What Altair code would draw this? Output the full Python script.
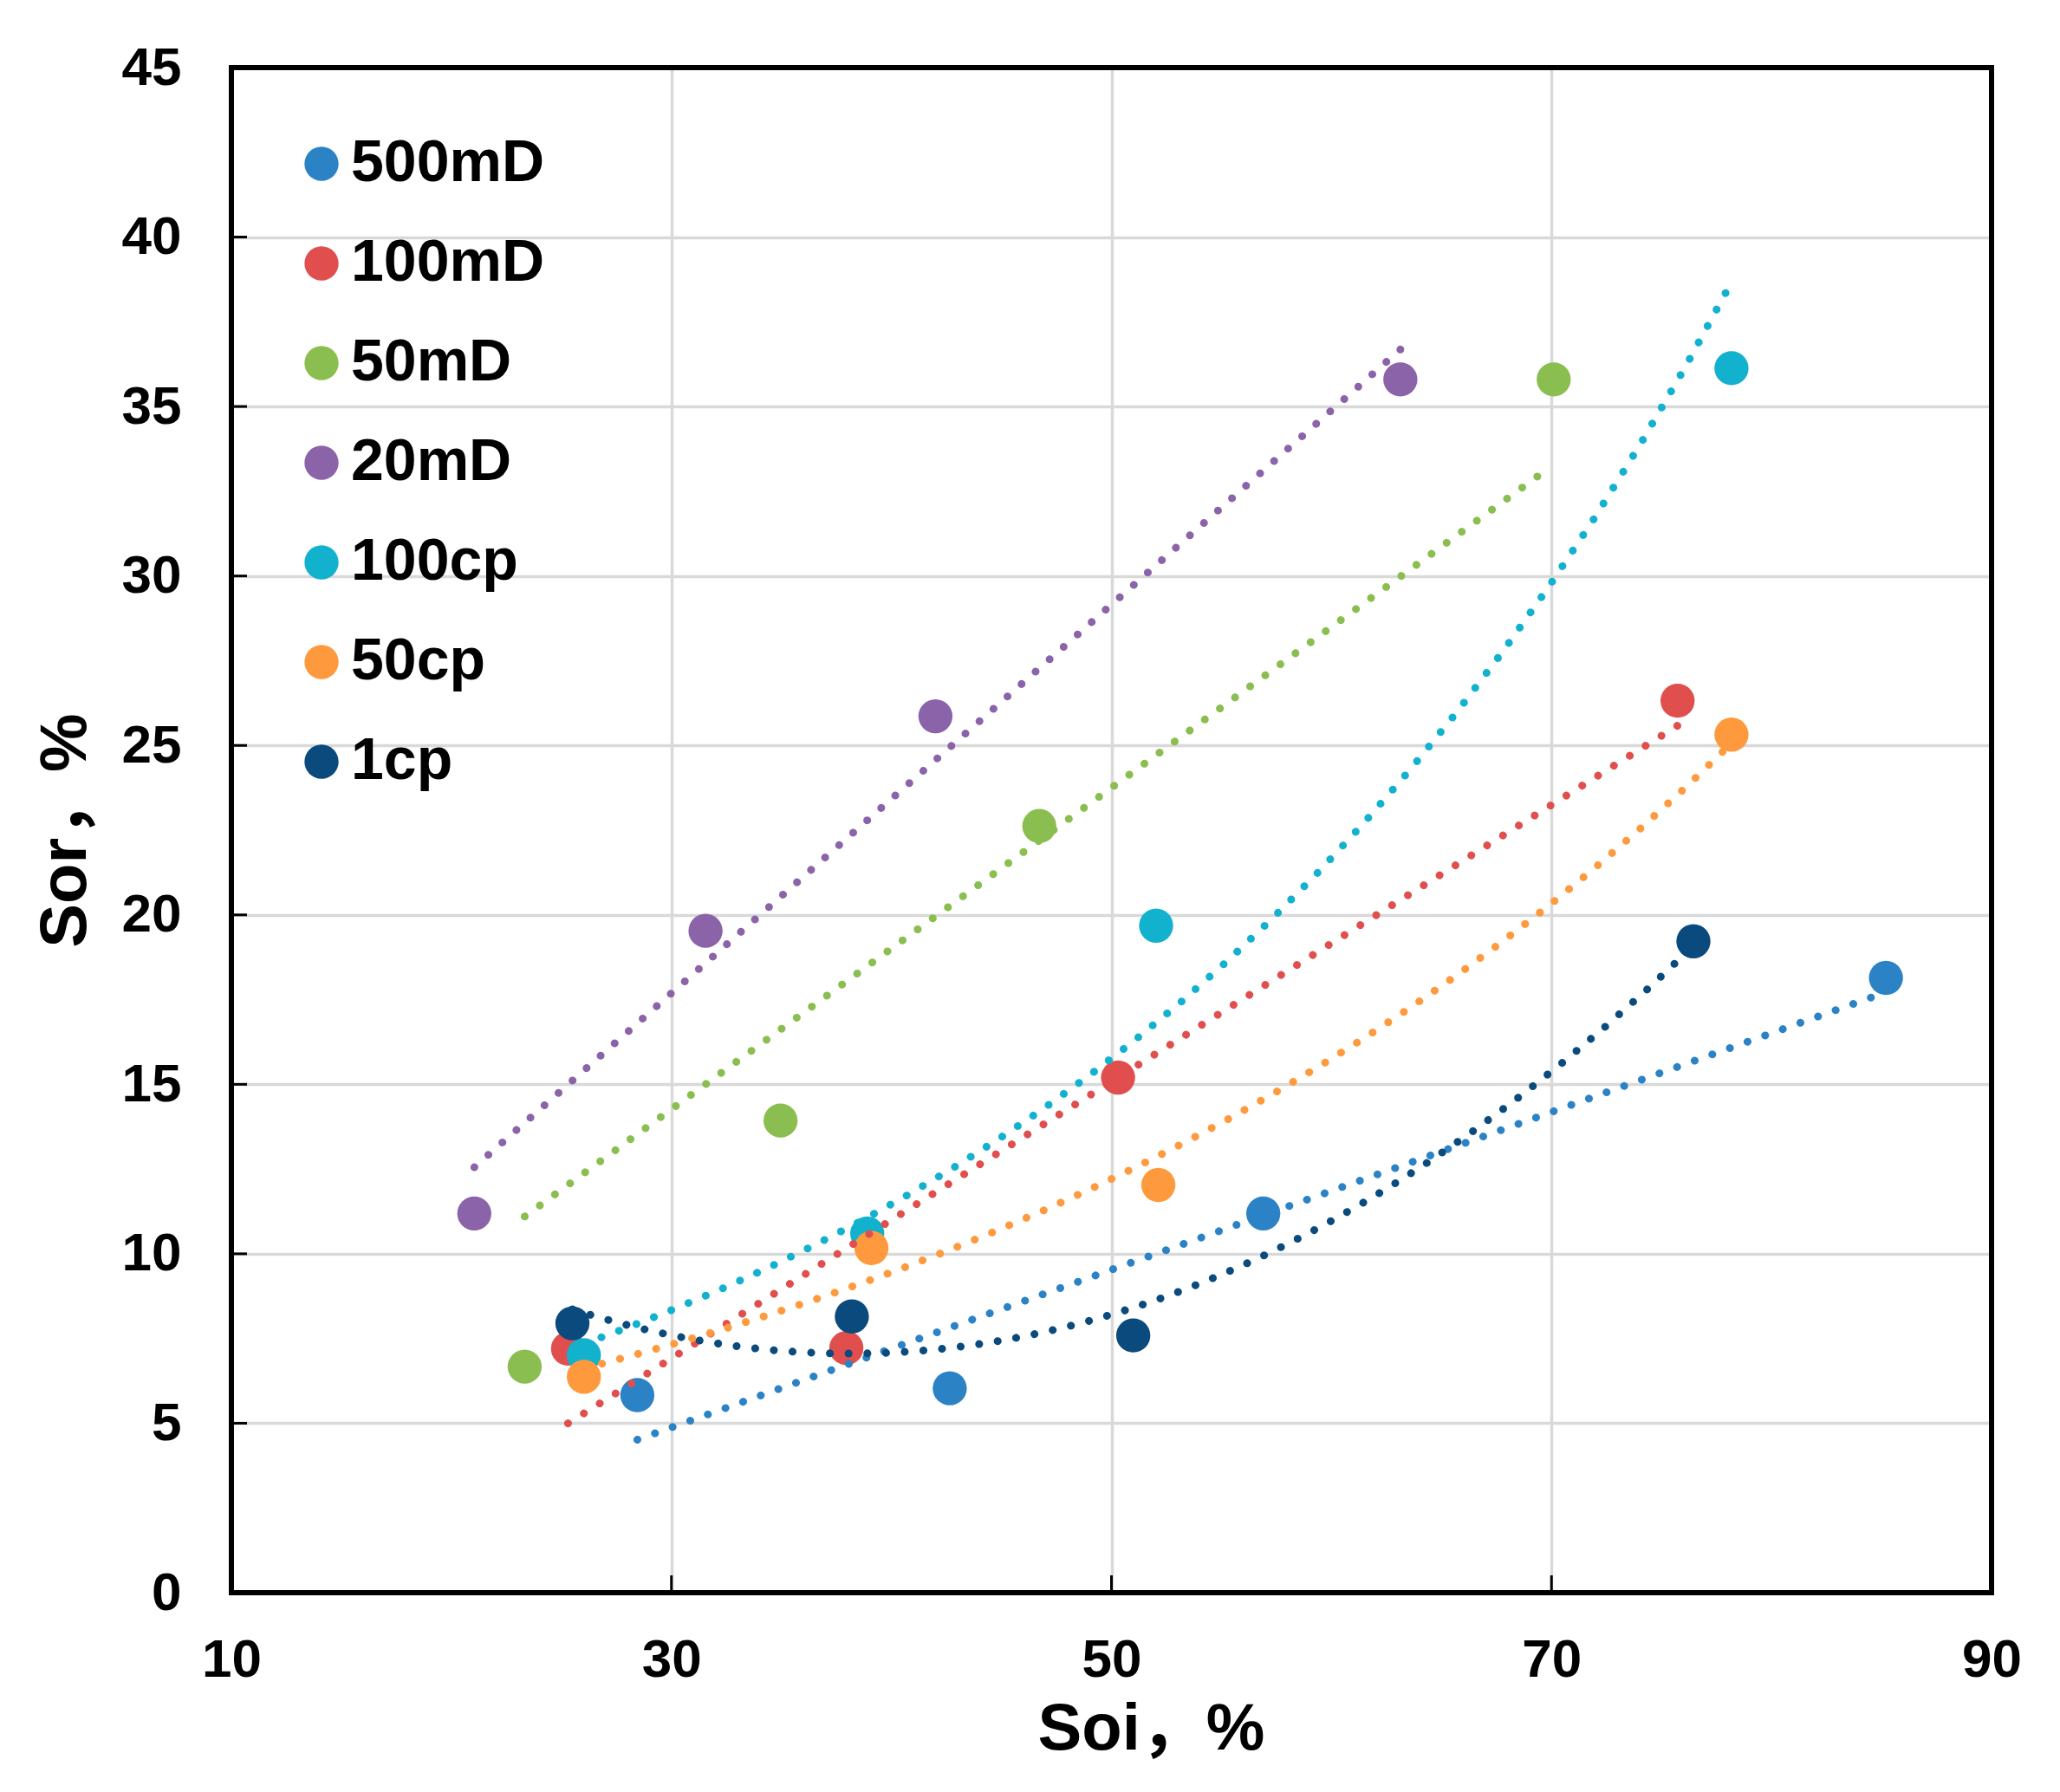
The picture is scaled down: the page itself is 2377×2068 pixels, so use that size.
import altair as alt
import pandas as pd

# ---- data ----
series = ["500mD", "100mD", "50mD", "20mD", "100cp", "50cp", "1cp"]
colors = ["#2B83C6", "#E04E4E", "#8BBE50", "#8A63A8", "#12B2CF", "#FE9A3D", "#0A4A7C"]

soi_500mD = [28.45, 42.65, 56.9, 85.2]
sor_500mD = [5.83, 6.03, 11.19, 18.14]
soi_100mD = [25.3, 37.95, 50.3, 75.73]
sor_100mD = [7.2, 7.22, 15.2, 26.32]
soi_50mD = [23.33, 34.96, 46.72, 70.1]
sor_50mD = [6.67, 13.93, 22.62, 35.8]
soi_20mD = [21.04, 31.55, 42.0, 63.13]
sor_20mD = [11.19, 19.53, 25.86, 35.8]
soi_100cp = [26.02, 38.9, 52.03, 78.18]
sor_100cp = [7.01, 10.6, 19.68, 36.13]
soi_50cp = [26.02, 39.09, 52.13, 78.18]
sor_50cp = [6.37, 10.17, 12.03, 25.32]
soi_1cp = [25.5, 38.2, 50.99, 76.45]
sor_1cp = [7.95, 8.15, 7.59, 19.22]

# 50mD trend line as drawn in the picture (end points)
trend_50mD_soi = [23.33, 69.6]
trend_50mD_sor = [11.1, 33.05]

x_ticks = [10, 30, 50, 70, 90]
y_ticks = [0, 5, 10, 15, 20, 25, 30, 35, 40, 45]
x_inner_ticks = [30, 50, 70]
y_inner_ticks = [5, 10, 15, 20, 25, 30, 35, 40]
x_edges = [10, 90]
y_edges = [0, 45]

soi_all = [soi_500mD, soi_100mD, soi_50mD, soi_20mD, soi_100cp, soi_50cp, soi_1cp]
sor_all = [sor_500mD, sor_100mD, sor_50mD, sor_20mD, sor_100cp, sor_50cp, sor_1cp]

rows = []
for s, xs, ys in zip(series, soi_all, sor_all):
    for a, b in zip(xs, ys):
        rows.append({"series": s, "soi": a, "sor": b})
pts = pd.DataFrame(rows)
green_trend = pd.DataFrame({"series": "50mD", "soi": trend_50mD_soi, "sor": trend_50mD_sor})
xt = pd.DataFrame({"soi": x_inner_ticks})
yt = pd.DataFrame({"sor": y_inner_ticks})
xe = pd.DataFrame({"soi": x_edges})
ye = pd.DataFrame({"sor": y_edges})

W, H = 2031, 1760
FONT = "Liberation Sans, Arial, Noto Sans CJK SC"

xscale = alt.Scale(domain=[10, 90], nice=False, zero=False)
yscale = alt.Scale(domain=[0, 45], nice=False, zero=False)
cscale = alt.Scale(domain=series, range=colors)

x_axis = alt.Axis(values=x_ticks, labelFlush=False, labelPadding=96, labelBaseline="alphabetic",
                  title="Soi，%", titleX=1061, titleY=180, titleBaseline="alphabetic",
                  titleAlign="center", tickSize=0)
y_axis = alt.Axis(values=y_ticks, labelFlush=False, labelPadding=58, labelBaseline="middle",
                  title="Sor，%", titleX=-169, titleY=880, titleAngle=270,
                  titleBaseline="alphabetic", titleAlign="center", tickSize=0)

legend = alt.Legend(orient="none", legendX=70, legendY=77, title=None, symbolType="circle",
                    symbolSize=1550, symbolStrokeWidth=0, symbolOpacity=1,
                    labelFont=FONT, labelFontSize=68, labelFontWeight="bold", labelColor="black",
                    labelOffset=0, rowPadding=47, padding=0, labelLimit=500)

X = alt.X("soi:Q", scale=xscale, axis=x_axis)
Y = alt.Y("sor:Q", scale=yscale, axis=y_axis)
C = alt.Color("series:N", scale=cscale, legend=legend, sort=series)

points = alt.Chart(pts).mark_circle(size=1550, opacity=1).encode(x=X, y=Y, color=C)

dot = dict(strokeWidth=9, strokeDash=[0.1, 21.5], strokeCap="round")


def trend_enc(c):
    return c.encode(x=X, y=Y, color=C, detail="series:N")


lin = trend_enc(
    alt.Chart(pts)
    .transform_filter(alt.FieldOneOfPredicate(field="series", oneOf=["500mD", "100mD", "20mD"]))
    .transform_regression("soi", "sor", groupby=["series"], method="linear")
    .mark_line(**dot)
)
quad = trend_enc(
    alt.Chart(pts)
    .transform_filter(alt.FieldEqualPredicate(field="series", equal="1cp"))
    .transform_regression("soi", "sor", groupby=["series"], method="poly", order=2)
    .mark_line(**dot)
)
expo = trend_enc(
    alt.Chart(pts)
    .transform_filter(alt.FieldOneOfPredicate(field="series", oneOf=["100cp", "50cp"]))
    .transform_calculate(lsor="log(datum.sor)")
    .transform_regression("soi", "lsor", groupby=["series"], method="poly", order=1)
    .transform_calculate(sor="exp(datum.lsor)")
    .mark_line(**dot)
)
green = trend_enc(alt.Chart(green_trend).mark_line(**dot))

ytick_layer = alt.Chart(yt).mark_rule(color="black", strokeWidth=3).encode(
    y=Y, x=alt.value(0), x2=alt.value(18)
)
xtick_layer = alt.Chart(xt).mark_rule(color="black", strokeWidth=3).encode(
    x=X, y=alt.value(H), y2=alt.value(H - 20)
)
# plot frame, drawn over the grid
frame_v = alt.Chart(xe).mark_rule(color="black", strokeWidth=6, strokeCap="square").encode(
    x=X, y=alt.value(0), y2=alt.value(H)
)
frame_h = alt.Chart(ye).mark_rule(color="black", strokeWidth=6, strokeCap="square").encode(
    y=Y, x=alt.value(0), x2=alt.value(W)
)

chart = alt.layer(points, lin, quad, expo, green, ytick_layer, xtick_layer, frame_v, frame_h).properties(
    width=W,
    height=H,
    padding={"left": 259, "top": 70, "right": 71, "bottom": 222},
    autosize=alt.AutoSizeParams(type="none"),
    background="white",
).configure_view(
    stroke=None
).configure_axis(
    domain=False, ticks=False, grid=True, gridColor="#d9d9d9", gridWidth=3.5,
    labelFont=FONT, labelFontSize=62, labelFontWeight="bold", labelColor="black",
    titleFont=FONT, titleFontSize=76, titleFontWeight="bold", titleColor="black",
    labelOverlap=False,
)

chart.save("out.html", embed_options={"renderer": "svg", "actions": False})
